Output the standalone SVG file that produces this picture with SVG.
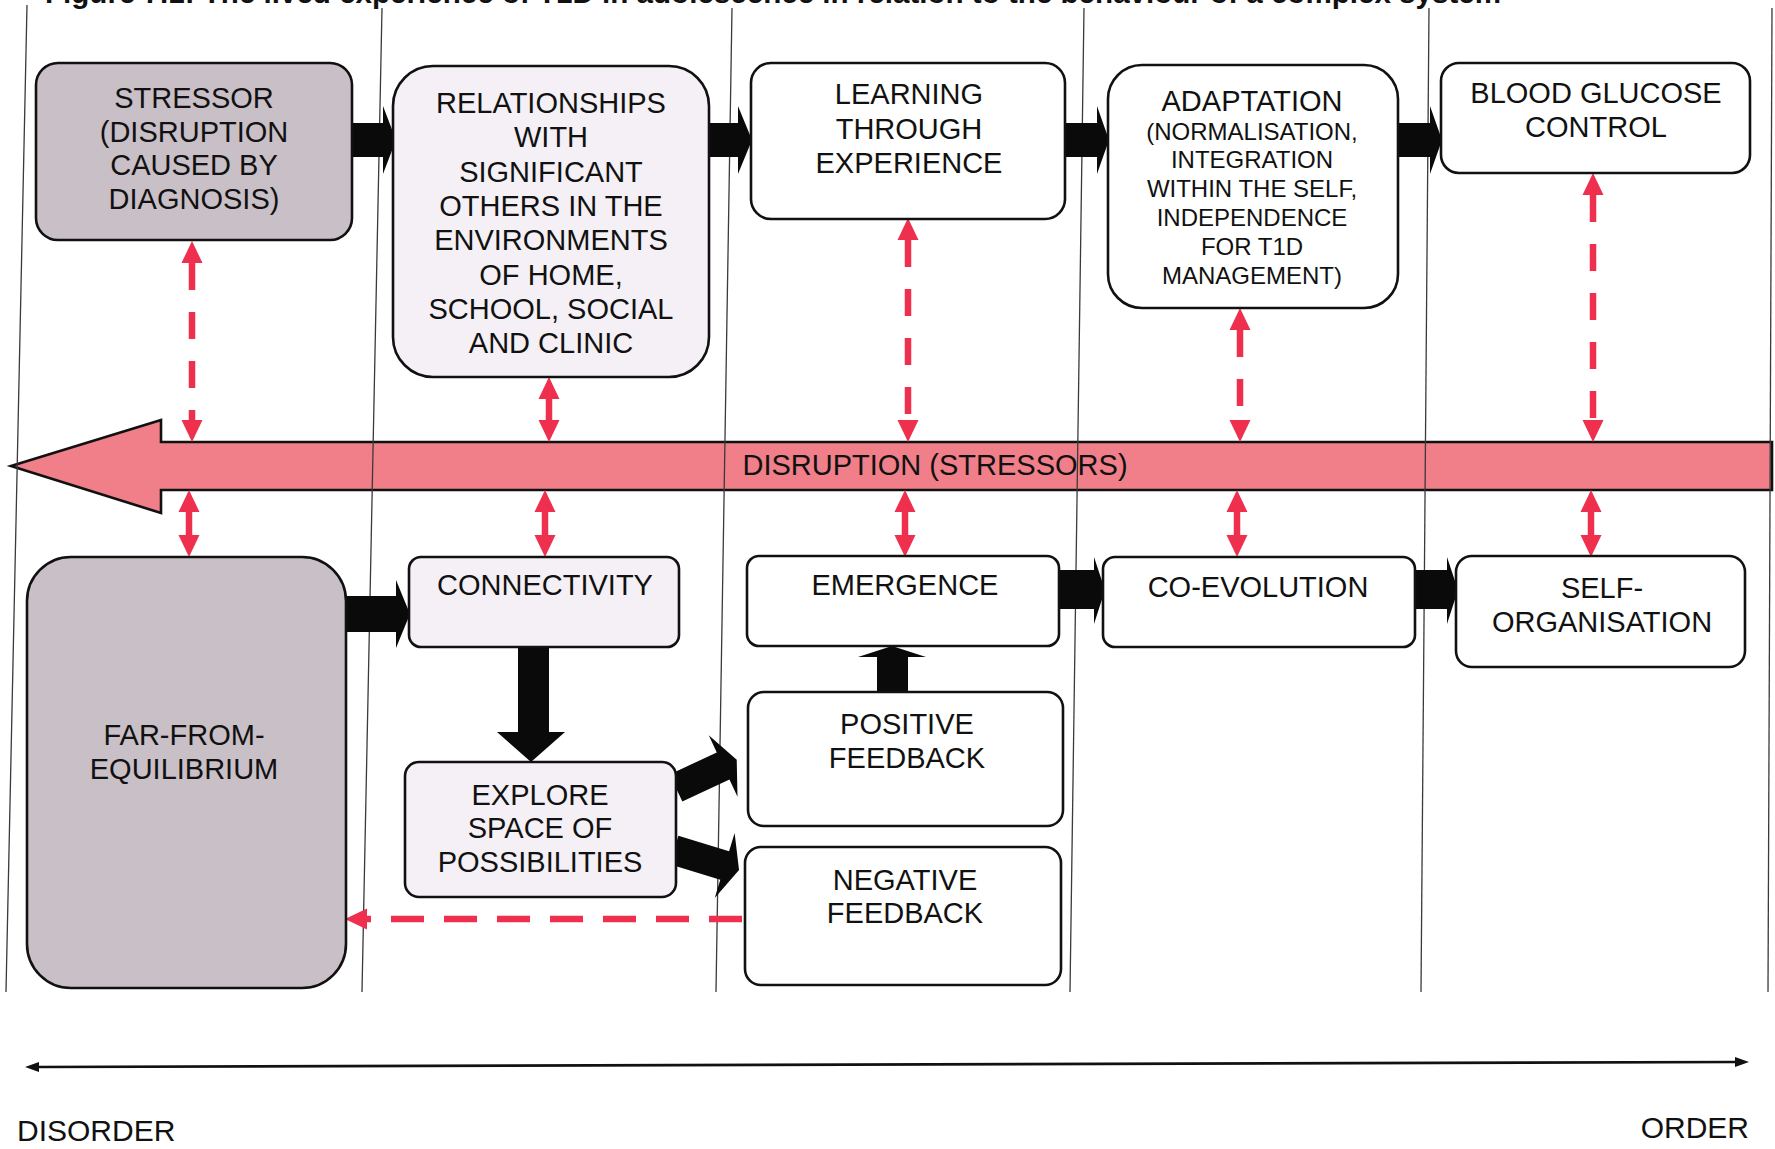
<svg xmlns="http://www.w3.org/2000/svg" width="1775" height="1149" viewBox="0 0 1775 1149">
  <defs>
    <style>
      .t{font-family:"Liberation Sans",Arial,sans-serif;font-size:29px;fill:#111;text-anchor:middle}
      .ts{font-size:24px}
      .box{stroke:#111;stroke-width:2.6}
      .gray{fill:#c9bfc7}
      .lav{fill:#f4f0f5}
      .wht{fill:#ffffff}
      .lane{stroke:#3a3a3a;stroke-width:1.3;fill:none}
      .blk{fill:#0a0a0a}
      .red{stroke:#ee2f4d;stroke-width:6.5;fill:none}
      .dash{stroke-dasharray:27 22}
    </style>
    <marker id="rh" viewBox="0 -11 22 22" refX="0" refY="0" markerWidth="22" markerHeight="22" markerUnits="userSpaceOnUse" orient="auto-start-reverse">
      <path d="M0,-10.5 L22,0 L0,10.5 Z" fill="#ee2f4d"/>
    </marker>
    <marker id="bh" viewBox="0 -6 14 12" refX="2" refY="0" markerWidth="14" markerHeight="12" markerUnits="userSpaceOnUse" orient="auto-start-reverse">
      <path d="M0,-5 L14,0 L0,5 Z" fill="#111"/>
    </marker>
  </defs>
  <rect width="1775" height="1149" fill="#ffffff"/>

  <text x="45" y="3" style="font-family:'Liberation Sans',Arial,sans-serif;font-size:29px;font-weight:bold;fill:#111" textLength="1456" lengthAdjust="spacingAndGlyphs">Figure 7.1: The lived experience of T1D in adolescence in relation to the behaviour of a complex system</text>

  <g id="disruption-bar">
    <polygon points="11,466 161,420 161,442 1772,442 1772,490 161,490 161,513" fill="#f07f8a" stroke="#111" stroke-width="2.6" stroke-linejoin="miter"/>
    <text class="t" x="935" y="475">DISRUPTION (STRESSORS)</text>
  </g>

  <g id="lanes">
    <line class="lane" x1="27" y1="5" x2="6" y2="992"/>
    <line class="lane" x1="382" y1="8" x2="362" y2="992"/>
    <line class="lane" x1="732" y1="8" x2="716" y2="992"/>
    <line class="lane" x1="1084" y1="8" x2="1070" y2="992"/>
    <line class="lane" x1="1429" y1="8" x2="1421" y2="992"/>
    <line class="lane" x1="1772" y1="8" x2="1768" y2="992"/>
  </g>

  <g id="connectors">
    <!-- black block arrows, top row -->
    <polygon class="blk" points="351,123 383,123 383,106 396,140 383,174 383,157 351,157"/>
    <polygon class="blk" points="709,123 738,123 738,106 752,140 738,174 738,157 709,157"/>
    <polygon class="blk" points="1065,123 1097,123 1097,106 1109,140 1097,174 1097,157 1065,157"/>
    <polygon class="blk" points="1398,123 1430,123 1430,106 1442,140 1430,174 1430,157 1398,157"/>
    <!-- black block arrows, bottom row -->
    <polygon class="blk" points="342,596 396,596 396,580 410,614 396,648 396,632 342,632"/>
    <polygon class="blk" points="1059,570 1094,570 1094,557 1105,590 1094,624 1094,609 1059,609"/>
    <polygon class="blk" points="1415,570 1447,570 1447,557 1458,590 1447,624 1447,609 1415,609"/>
    <!-- connectivity down to explore -->
    <polygon class="blk" points="518,647 549,647 549,732 565,732 531,762 497,732 518,732"/>
    <!-- positive feedback up to emergence -->
    <polygon class="blk" points="877,692 877,657 858,657 892,646 926,657 908,657 908,692"/>
    <!-- explore to positive / negative feedback -->
    <polygon class="blk" transform="translate(676,788) rotate(-25)" points="0,-15 52,-15 52,-34 67,0 52,34 52,15 0,15"/>
    <polygon class="blk" transform="translate(674,850) rotate(17)" points="0,-15 53,-15 53,-34 68,0 53,34 53,15 0,15"/>

    <!-- red dashed double arrows, top boxes to bar -->
    <path class="red dash" d="M192,263 L192,420" marker-start="url(#rh)" marker-end="url(#rh)"/>
    <path class="red" d="M549,399 L549,420" marker-start="url(#rh)" marker-end="url(#rh)"/>
    <path class="red dash" d="M908,240 L908,420" marker-start="url(#rh)" marker-end="url(#rh)"/>
    <path class="red dash" d="M1240,330 L1240,420" marker-start="url(#rh)" marker-end="url(#rh)"/>
    <path class="red dash" d="M1593,195 L1593,420" marker-start="url(#rh)" marker-end="url(#rh)"/>
    <!-- red double arrows, bar to bottom boxes -->
    <path class="red" d="M189,512 L189,535" marker-start="url(#rh)" marker-end="url(#rh)"/>
    <path class="red" d="M545,512 L545,535" marker-start="url(#rh)" marker-end="url(#rh)"/>
    <path class="red" d="M905,512 L905,535" marker-start="url(#rh)" marker-end="url(#rh)"/>
    <path class="red" d="M1237,512 L1237,535" marker-start="url(#rh)" marker-end="url(#rh)"/>
    <path class="red" d="M1591,512 L1591,535" marker-start="url(#rh)" marker-end="url(#rh)"/>
    <!-- negative feedback back to far-from-equilibrium -->
    <path class="red" style="stroke-dasharray:33 20" d="M742,919 L367,919" marker-end="url(#rh)"/>

    <!-- disorder / order axis -->
    <line x1="37" y1="1067" x2="1737" y2="1062" stroke="#111" stroke-width="2.6" marker-start="url(#bh)" marker-end="url(#bh)"/>
  </g>

  <g id="stressor">
    <rect class="box gray" x="36" y="63" width="316" height="177" rx="22"/>
    <text class="t" x="194" y="108">STRESSOR</text>
    <text class="t" x="194" y="142">(DISRUPTION</text>
    <text class="t" x="194" y="175">CAUSED BY</text>
    <text class="t" x="194" y="209">DIAGNOSIS)</text>
  </g>
  <g id="relationships">
    <rect class="box lav" x="393" y="66" width="316" height="311" rx="40"/>
    <text class="t" x="551" y="113">RELATIONSHIPS</text>
    <text class="t" x="551" y="147">WITH</text>
    <text class="t" x="551" y="182">SIGNIFICANT</text>
    <text class="t" x="551" y="216">OTHERS IN THE</text>
    <text class="t" x="551" y="250">ENVIRONMENTS</text>
    <text class="t" x="551" y="285">OF HOME,</text>
    <text class="t" x="551" y="319">SCHOOL, SOCIAL</text>
    <text class="t" x="551" y="353">AND CLINIC</text>
  </g>
  <g id="learning">
    <rect class="box wht" x="751" y="63" width="314" height="156" rx="20"/>
    <text class="t" x="909" y="104">LEARNING</text>
    <text class="t" x="909" y="139">THROUGH</text>
    <text class="t" x="909" y="173">EXPERIENCE</text>
  </g>
  <g id="adaptation">
    <rect class="box wht" x="1108" y="65" width="290" height="243" rx="34"/>
    <text class="t" x="1252" y="111">ADAPTATION</text>
    <text class="t ts" x="1252" y="140">(NORMALISATION,</text>
    <text class="t ts" x="1252" y="168">INTEGRATION</text>
    <text class="t ts" x="1252" y="197">WITHIN THE SELF,</text>
    <text class="t ts" x="1252" y="226">INDEPENDENCE</text>
    <text class="t ts" x="1252" y="255">FOR T1D</text>
    <text class="t ts" x="1252" y="284">MANAGEMENT)</text>
  </g>
  <g id="blood-glucose">
    <rect class="box wht" x="1441" y="63" width="309" height="110" rx="18"/>
    <text class="t" x="1596" y="103">BLOOD GLUCOSE</text>
    <text class="t" x="1596" y="137">CONTROL</text>
  </g>

  <g id="far-from-equilibrium">
    <rect class="box gray" x="27" y="557" width="319" height="431" rx="44"/>
    <text class="t" x="184" y="745">FAR-FROM-</text>
    <text class="t" x="184" y="779">EQUILIBRIUM</text>
  </g>
  <g id="connectivity">
    <rect class="box lav" x="409" y="557" width="270" height="90" rx="12"/>
    <text class="t" x="545" y="595">CONNECTIVITY</text>
  </g>
  <g id="emergence">
    <rect class="box wht" x="747" y="556" width="312" height="90" rx="12"/>
    <text class="t" x="905" y="595">EMERGENCE</text>
  </g>
  <g id="co-evolution">
    <rect class="box wht" x="1103" y="557" width="312" height="90" rx="12"/>
    <text class="t" x="1258" y="597">CO-EVOLUTION</text>
  </g>
  <g id="self-organisation">
    <rect class="box wht" x="1456" y="556" width="289" height="111" rx="16"/>
    <text class="t" x="1602" y="598">SELF-</text>
    <text class="t" x="1602" y="632">ORGANISATION</text>
  </g>
  <g id="explore">
    <rect class="box lav" x="405" y="762" width="271" height="135" rx="14"/>
    <text class="t" x="540" y="805">EXPLORE</text>
    <text class="t" x="540" y="838">SPACE OF</text>
    <text class="t" x="540" y="872">POSSIBILITIES</text>
  </g>
  <g id="positive-feedback">
    <rect class="box wht" x="748" y="692" width="315" height="134" rx="16"/>
    <text class="t" x="907" y="734">POSITIVE</text>
    <text class="t" x="907" y="768">FEEDBACK</text>
  </g>
  <g id="negative-feedback">
    <rect class="box wht" x="745" y="847" width="316" height="138" rx="16"/>
    <text class="t" x="905" y="890">NEGATIVE</text>
    <text class="t" x="905" y="923">FEEDBACK</text>
  </g>

  <g id="axis-labels">
    <text x="17" y="1141" style="font-family:'Liberation Sans',Arial,sans-serif;font-size:30px;fill:#111">DISORDER</text>
    <text x="1749" y="1138" style="font-family:'Liberation Sans',Arial,sans-serif;font-size:30px;fill:#111;text-anchor:end">ORDER</text>
  </g>
</svg>
